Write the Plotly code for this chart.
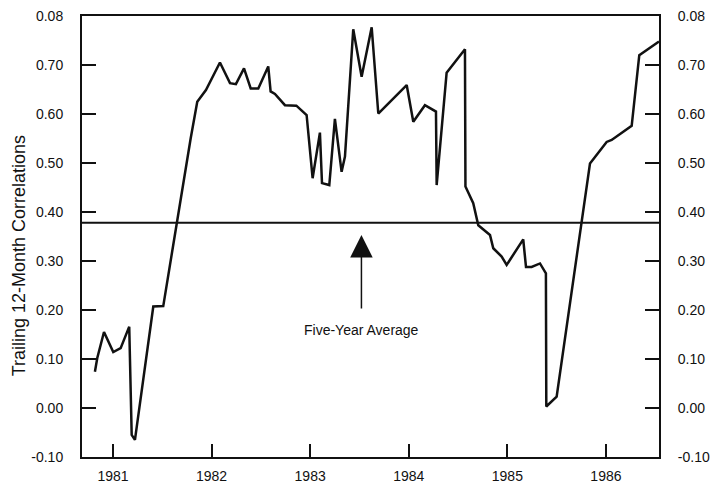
import plotly.graph_objects as go

# Decimal-year dates and trailing 12-month correlation values
dates = [1980.817, 1980.841, 1980.909, 1981.003, 1981.078, 1981.165, 1981.190, 1981.223,
         1981.409, 1981.510, 1981.788, 1981.855, 1981.943, 1982.001, 1982.085, 1982.187,
         1982.247, 1982.329, 1982.397, 1982.474, 1982.575, 1982.599, 1982.643, 1982.744,
         1982.860, 1982.964, 1983.025, 1983.099, 1983.120, 1983.194, 1983.251, 1983.319,
         1983.353, 1983.437, 1983.522, 1983.624, 1983.691, 1983.979, 1984.046, 1984.164,
         1984.276, 1984.283, 1984.384, 1984.570, 1984.575, 1984.654, 1984.688, 1984.705,
         1984.824, 1984.857, 1984.942, 1984.993, 1985.161, 1985.189, 1985.246, 1985.331,
         1985.391, 1985.395, 1985.500, 1985.838, 1986.007, 1986.058, 1986.261, 1986.338,
         1986.538]
correlations = [0.074, 0.102, 0.155, 0.114, 0.122, 0.166, -0.055, -0.065,
                0.207, 0.208, 0.550, 0.625, 0.649, 0.673, 0.705, 0.663,
                0.661, 0.693, 0.652, 0.652, 0.697, 0.646, 0.641, 0.618,
                0.617, 0.598, 0.469, 0.562, 0.459, 0.455, 0.590, 0.482,
                0.513, 0.773, 0.676, 0.777, 0.601, 0.659, 0.584, 0.618,
                0.605, 0.455, 0.684, 0.732, 0.452, 0.418, 0.384, 0.373,
                0.353, 0.326, 0.309, 0.292, 0.344, 0.288, 0.288, 0.295,
                0.275, 0.003, 0.023, 0.499, 0.543, 0.547, 0.576, 0.720,
                0.748]

five_year_average = 0.378

x_tick_vals = [1981, 1982, 1983, 1984, 1985, 1986]
x_tick_text = ["1981", "1982", "1983", "1984", "1985", "1986"]
y_tick_vals = [-0.10, 0.00, 0.10, 0.20, 0.30, 0.40, 0.50, 0.60, 0.70, 0.80]
y_tick_text = ["-0.10", "0.00", "0.10", "0.20", "0.30", "0.40", "0.50", "0.60", "0.70", "0.08"]

x_range = [1980.686, 1986.538]
y_range = [-0.10, 0.80]

y_title = "Trailing 12-Month Correlations"
annotation_text = "Five-Year Average"
arrow_x = 1983.52
arrow_tip_y = 0.353
arrow_tail_y = 0.200
label_y = 0.159

FONT = "Liberation Sans, Arial, Helvetica, sans-serif"
INK = "#111111"

fig = go.Figure()
fig.add_trace(go.Scatter(x=dates, y=correlations, mode="lines",
                         line=dict(color=INK, width=2.5), showlegend=False,
                         hoverinfo="skip"))
fig.add_trace(go.Scatter(x=x_range, y=[five_year_average, five_year_average], mode="lines",
                         line=dict(color=INK, width=2), showlegend=False,
                         hoverinfo="skip"))
# invisible trace to anchor the right-hand axis
fig.add_trace(go.Scatter(x=x_range, y=y_range, yaxis="y2", mode="lines",
                         line=dict(color="rgba(0,0,0,0)"), showlegend=False,
                         hoverinfo="skip"))

fig.add_annotation(x=arrow_x, y=arrow_tip_y, ax=arrow_x, ay=arrow_tail_y,
                   xref="x", yref="y", axref="x", ayref="y", text="",
                   showarrow=True, arrowhead=2, arrowsize=3, arrowwidth=1.5,
                   arrowcolor=INK)
fig.add_annotation(x=arrow_x, y=label_y, xref="x", yref="y", text=annotation_text,
                   showarrow=False, font=dict(family=FONT, size=14, color=INK))
# rotated y-axis title (placed like the original, slightly below centre)
fig.add_annotation(x=0, y=0.455, xref="paper", yref="paper", xanchor="center",
                   yanchor="middle", xshift=-63, textangle=-90, text=y_title,
                   showarrow=False, font=dict(family=FONT, size=18, color=INK))

# page body has an 8px margin, so the figure is sized and offset to compensate
fig.update_layout(
    width=713, height=477,
    margin=dict(l=74, r=62, t=8, b=28, autoexpand=False),
    plot_bgcolor="white", paper_bgcolor="white",
    font=dict(family=FONT, size=14, color=INK),
    xaxis=dict(range=x_range, tickvals=x_tick_vals, ticktext=x_tick_text,
               ticks="inside", ticklen=13, tickwidth=2, tickcolor=INK,
               showline=True, linecolor=INK, linewidth=2, mirror=True,
               showgrid=False, zeroline=False, ticklabelstandoff=5,
               automargin=False, ticklabeloverflow="allow"),
    yaxis=dict(range=y_range, tickvals=y_tick_vals, ticktext=y_tick_text,
               ticks="inside", ticklen=14, tickwidth=2, tickcolor=INK,
               showline=True, linecolor=INK, linewidth=2, mirror=True,
               showgrid=False, zeroline=False, ticklabelstandoff=14,
               automargin=False, ticklabeloverflow="allow"),
    yaxis2=dict(range=y_range, tickvals=y_tick_vals, ticktext=y_tick_text,
                overlaying="y", side="right",
                ticks="inside", ticklen=14, tickwidth=2, tickcolor=INK,
                showline=True, linecolor=INK, linewidth=2,
                showgrid=False, zeroline=False, ticklabelstandoff=14,
                automargin=False, ticklabeloverflow="allow"),
)

fig.write_html("out.html")
